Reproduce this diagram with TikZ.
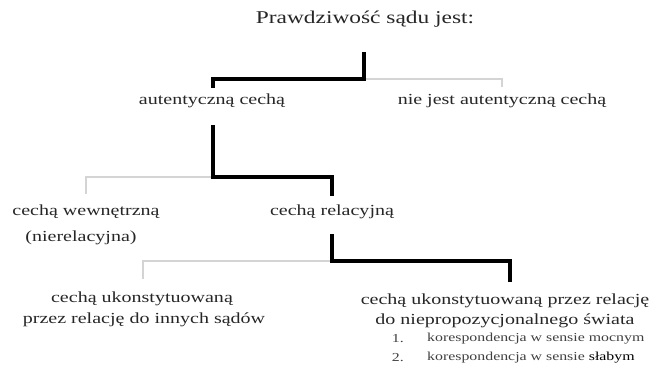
\documentclass[tikz,border=0pt]{standalone}
\usepackage{fontspec}
\setmainfont{Liberation Serif}[FakeStretch=1.3]
\begin{document}
\begin{tikzpicture}[x=1pt,y=-1pt,
  txt/.style={inner sep=0pt, text=black!85, font=\fontsize{15.4}{18}\selectfont},
  ttl/.style={inner sep=0pt, text=black!85, font=\fontsize{18}{21}\selectfont},
  itm/.style={inner sep=0pt, text=black!75, font=\fontsize{12.2}{15}\selectfont},
  chosen/.style={line width=3.6pt, black, line join=miter},
  other/.style={line width=2pt, black!17, line join=miter}]
\useasboundingbox (0,0) rectangle (653,374);

% labels
\node[ttl] (root) at (365,19) {Prawdziwość sądu jest:};
\node[txt] (aut) at (212,101) {autentyczną cechą};
\node[txt] (naut) at (502,101) {nie jest autentyczną cechą};
\node[txt] (wew) at (86,212) {cechą wewnętrzną};
\node[txt] (nrel) at (81,238) {(nierelacyjna)};
\node[txt] (rel) at (332,212) {cechą relacyjną};
\node[txt] (ukA1) at (142,299) {cechą ukonstytuowaną};
\node[txt] (ukA2) at (144,320) {przez relację do innych sądów};
\node[txt] (ukB1) at (505,301) {cechą ukonstytuowaną przez relację};
\node[txt] (ukB2) at (505,321) {do niepropozycjonalnego świata};
\node[itm, anchor=east] (n1) at (404,339) {1.};
\node[itm, anchor=west] (k1) at (427,339) {korespondencja w sensie mocnym};
\node[itm, anchor=east] (n2) at (404,358) {2.};
\node[itm, anchor=west] (k2) at (427,358) {korespondencja w sensie \textcolor{black}{słabym}};

% junctions and branch ends of the tree
\coordinate (r0) at (364,52);
\coordinate (r1) at (364,79);
\coordinate (autTop) at (213,88);
\coordinate (nautTop) at (502,87);
\coordinate (a0) at (213,125);
\coordinate (a1) at (213,177);
\coordinate (relTop) at (332,196);
\coordinate (wewTop) at (86,194);
\coordinate (c0) at (332,234);
\coordinate (c1) at (332,261);
\coordinate (ukBTop) at (510,282);
\coordinate (ukATop) at (143,279);

% rejected branches
\draw[other] (r1) -| (nautTop);
\draw[other] (a1) -| (wewTop);
\draw[other] (c1) -| (ukATop);

% chosen path
\draw[chosen] (r0) -- (r1) -| (autTop);
\draw[chosen] (a0) -- (a1) -| (relTop);
\draw[chosen] (c0) -- (c1) -| (ukBTop);
\end{tikzpicture}
\end{document}
